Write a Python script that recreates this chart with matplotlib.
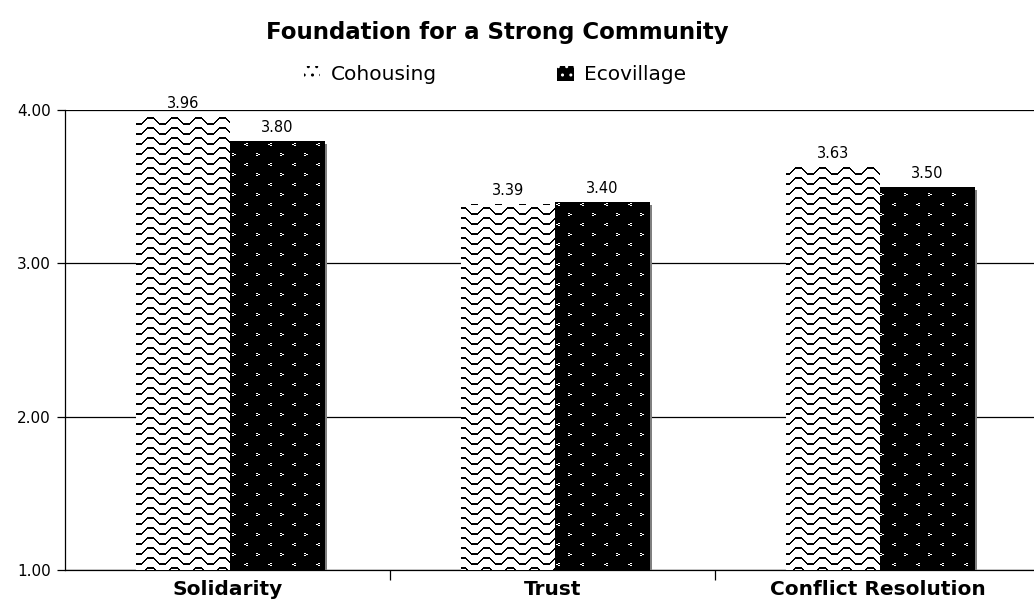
import numpy as np
import matplotlib
matplotlib.use("Agg")
import matplotlib.pyplot as plt
from matplotlib.patches import Patch
import matplotlib.patheffects as pe

categories = ["Solidarity", "Trust", "Conflict Resolution"]
cohousing = [3.96, 3.39, 3.63]
ecovillage = [3.80, 3.40, 3.50]
series_names = ["Cohousing", "Ecovillage"]
yticks = [1, 2, 3, 4]

W, H, DPI = 1034, 603, 100
fig = plt.figure(figsize=(W / DPI, H / DPI), dpi=DPI)
ax = fig.add_axes([65 / W, 33 / H, 975 / W, 460 / H])
ax.set_xlim(-0.5, 2.5)
ax.set_ylim(1, 4)


def texture(kind, bar):
    # pixel texture for one bar, placed straight on the figure
    x0, y0, w, h = bar.get_x(), bar.get_y(), bar.get_width(), bar.get_height()
    px0, py0 = ax.transData.transform((x0, y0))
    px1, py1 = ax.transData.transform((x0 + w, y0 + h))
    ix0, iy0 = int(np.floor(px0)), int(np.floor(py0))
    nx, ny = int(np.ceil(px1)) - ix0, int(np.ceil(py1)) - iy0
    X, R = np.meshgrid(ix0 + np.arange(nx), np.arange(ny))
    Y = H - 1 - (iy0 + ny - 1 - R)  # pixel row from the top of the figure
    if kind == "wave":
        off = np.round(2.6 * np.clip(1.5 * np.sin(2 * np.pi * X / 24.0), -1, 1))
        d = (Y + off) % 10
        img = np.where(d < 2, 0.0, 1.0)
    else:
        img = np.zeros((ny, nx))
        cx = X % 24
        cy = Y % 20
        m1 = ((cy == 3) & ((cx == 6) | (cx == 7))) | ((cy == 4) & ((cx == 4) | (cx == 5))) | \
             ((cy == 5) & ((cx == 6) | (cx == 7)))
        m2 = ((cy == 13) & ((cx == 16) | (cx == 17))) | ((cy == 14) & ((cx == 18) | (cx == 19))) | \
             ((cy == 15) & ((cx == 16) | (cx == 17)))
        img[m1 | m2] = 1.0
    return img, ix0, iy0


x = np.arange(len(categories))
bw = 0.29
shadow = [pe.SimplePatchShadow(offset=(2.3, -2.3), shadow_rgbFace="#808080", alpha=1.0), pe.Normal()]

b1 = ax.bar(x - 0.138, np.array(cohousing) - 1, bw, bottom=1, color="white", linewidth=0, zorder=2)
b2 = ax.bar(x + 0.152, np.array(ecovillage) - 1, bw, bottom=1, color="black", linewidth=0, zorder=4)
for b in b2:
    b.set_path_effects(shadow)
for bars, kind, z in [(b1, "wave", 1), (b2, "dots", 2)]:
    for b in bars:
        img, ix0, iy0 = texture(kind, b)
        im = fig.figimage(img, xo=ix0, yo=iy0, origin="upper", cmap="gray", vmin=0, vmax=1, zorder=z)
        im.set_clip_path(b)

for bars, vals in [(b1, cohousing), (b2, ecovillage)]:
    for b, v in zip(bars, vals):
        ax.annotate("%.2f" % v, (b.get_x() + b.get_width() / 2, v), xytext=(0, 4),
                    textcoords="offset points", ha="center", va="bottom", fontsize=10.5, zorder=6)

ax.set_yticks(yticks)
ax.set_yticklabels(["%.2f" % t for t in yticks], fontsize=11)
ax.yaxis.grid(True, color="black", linewidth=0.9)
ax.set_axisbelow(True)
ax.tick_params(axis="y", direction="out", length=6, width=0.9, pad=4)

ax.set_xticks([0.5, 1.5])
ax.set_xticklabels([])
ax.set_xticks(x, minor=True)
ax.set_xticklabels(categories, minor=True, fontsize=14.5, fontweight="bold")
ax.tick_params(axis="x", which="major", direction="out", length=7, width=0.9)
ax.tick_params(axis="x", which="minor", length=0, pad=7)

for s in ["top", "right"]:
    ax.spines[s].set_visible(False)
for s in ["left", "bottom"]:
    ax.spines[s].set_linewidth(0.9)

fig.text(497 / W, 1 - 33 / H, "Foundation for a Strong Community", ha="center", va="center",
         fontsize=16.5, fontweight="bold")

handles = [Patch(facecolor="white", edgecolor="black", hatch="..", linewidth=0),
           Patch(facecolor="black", edgecolor="white", hatch="..", linewidth=0)]
fig.legend(handles, series_names, loc="center", bbox_to_anchor=(495 / W, 1 - 75 / H), ncol=2,
           frameon=False, fontsize=14.5, handlelength=0.8, handleheight=0.8, handletextpad=0.5,
           columnspacing=6.0)

fig.savefig("out.png", dpi=DPI)
